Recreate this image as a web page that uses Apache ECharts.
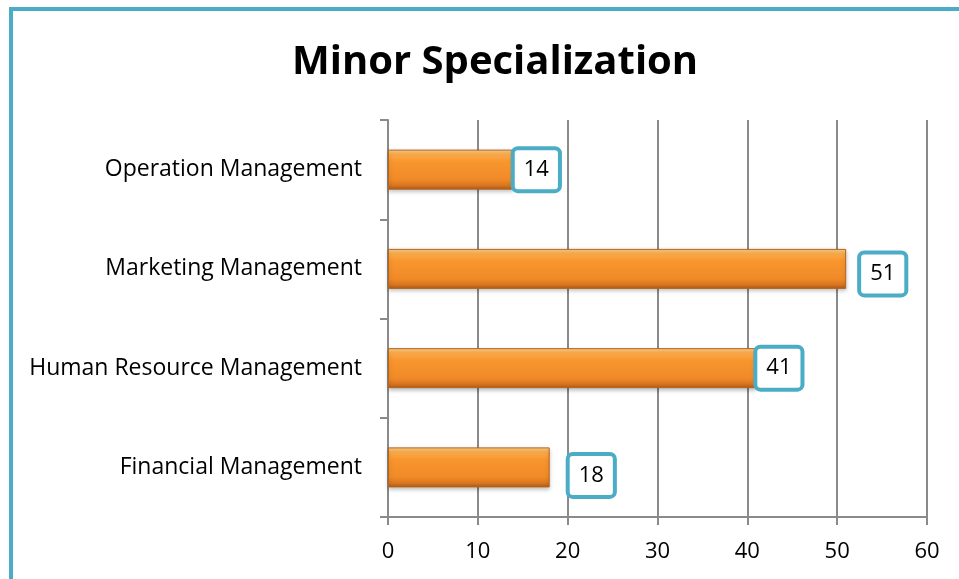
<!DOCTYPE html>
<html>
<head>
<meta charset="utf-8">
<script src="https://cdn.jsdelivr.net/npm/echarts@6/dist/echarts.min.js"></script>
<style>
  html, body { margin: 0; padding: 0; background: #fff; }
  #chart { width: 959px; height: 579px; }
</style>
</head>
<body>
<div id="chart"></div>
<script>
// data, bottom to top as drawn on the category axis
var categories = ['Financial Management', 'Human Resource Management', 'Marketing Management', 'Operation Management'];
var values = [18, 41, 51, 14];
// label nudges: [distance from bar end, vertical shift]
var labelNudge = [[20, 8], [1, 0], [15, 5], [1, 0]];
var xTicks = [0, 10, 20, 30, 40, 50, 60];

var teal = '#4bacc6';
var lineGray = '#8a8a8a';
var font = 'Open Sans';

var barColor = new echarts.graphic.LinearGradient(0, 0, 0, 1, [
    { offset: 0, color: '#fcd58a' },
    { offset: 0.12, color: '#fbab4c' },
    { offset: 0.3, color: '#f8962e' },
    { offset: 0.75, color: '#f08a28' },
    { offset: 0.9, color: '#d8741f' },
    { offset: 1, color: '#a9591a' }
]);

var seriesData = values.map(function (v, i) {
    return {
        value: v,
        label: {
            distance: labelNudge[i][0],
            offset: [0, labelNudge[i][1]]
        }
    };
});

var myChart = echarts.init(document.getElementById('chart'));
var option = {
    animation: false,
    title: {
        text: 'Minor Specialization',
        left: 287,
        top: 38,
        textStyle: { fontFamily: font, fontSize: 40, fontWeight: 'bold', color: '#000' }
    },
    graphic: [{
        type: 'rect',
        shape: { x: 11, y: 9, width: 1200, height: 1200 },
        style: { fill: 'none', stroke: teal, lineWidth: 4 },
        silent: true
    }],
    grid: { left: 388, right: 32, top: 120, bottom: 62 },
    xAxis: {
        type: 'value',
        min: 0,
        max: xTicks[xTicks.length - 1],
        interval: 10,
        axisLine: { show: true, lineStyle: { color: lineGray, width: 2 } },
        axisTick: { show: true, length: 8, lineStyle: { color: lineGray, width: 2 } },
        splitLine: { show: true, lineStyle: { color: lineGray, width: 2 } },
        axisLabel: { color: '#000', fontFamily: font, fontSize: 22, margin: 24 }
    },
    yAxis: {
        type: 'category',
        data: categories,
        axisLine: { show: true, lineStyle: { color: lineGray, width: 2 } },
        axisTick: { show: true, length: 8, lineStyle: { color: lineGray, width: 2 } },
        axisLabel: { color: '#000', fontFamily: font, fontSize: 23, margin: 26 }
    },
    series: [{
        type: 'bar',
        data: seriesData,
        barWidth: 40,
        itemStyle: {
            color: barColor,
            borderColor: '#b8631c',
            borderWidth: 1,
            shadowColor: 'rgba(0,0,0,0.25)',
            shadowBlur: 4,
            shadowOffsetY: 2
        },
        label: {
            show: true,
            position: 'right',
            color: '#000',
            fontFamily: font,
            fontSize: 22,
            backgroundColor: '#fff',
            borderColor: teal,
            borderWidth: 4,
            borderRadius: 3,
            padding: [9, 9, 8, 9]
        }
    }]
};
myChart.setOption(option);
</script>
</body>
</html>
